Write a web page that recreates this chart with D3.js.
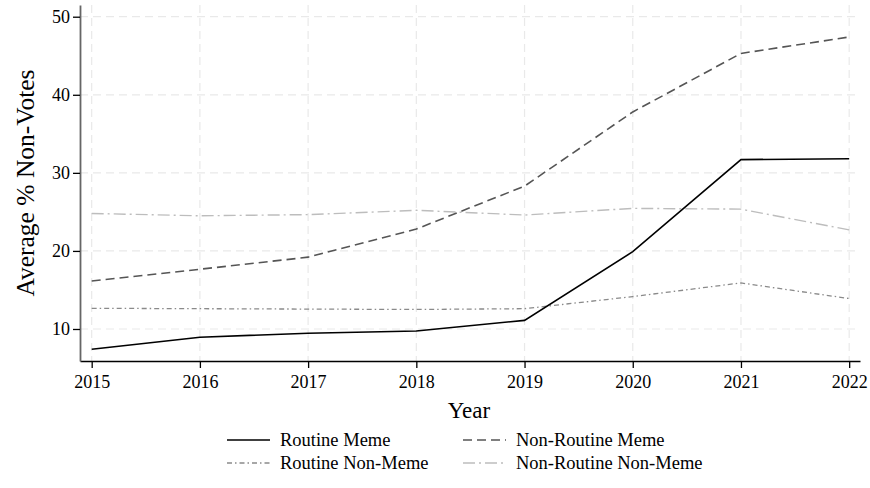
<!DOCTYPE html>
<html>
<head>
<meta charset="utf-8">
<script src="https://cdn.jsdelivr.net/npm/d3@7"></script>
<style>
  body { margin: 0; background: #fff; }
  svg { font-family: "Liberation Serif", "Times New Roman", serif; }
</style>
</head>
<body>
<svg id="svg" width="870" height="488"></svg>
<script>
var years = [2015, 2016, 2017, 2018, 2019, 2020, 2021, 2022];
var yTicks = [10, 20, 30, 40, 50];

var routineMeme = [7.4, 8.95, 9.45, 9.75, 11.1, 19.9, 31.7, 31.8];
var nonRoutineMeme = [16.15, 17.65, 19.2, 22.8, 28.3, 37.8, 45.3, 47.4];
var routineNonMeme = [12.65, 12.6, 12.55, 12.5, 12.6, 14.15, 15.9, 13.9];
var nonRoutineNonMeme = [24.8, 24.5, 24.65, 25.2, 24.6, 25.45, 25.35, 22.7];

var seriesNames = ["Routine Meme", "Non-Routine Meme", "Routine Non-Meme", "Non-Routine Non-Meme"];

var series = [
    {name: seriesNames[0], values: routineMeme, color: "#000", dash: null, width: 1.6},
    {name: seriesNames[1], values: nonRoutineMeme, color: "#555", dash: "9,5", width: 1.6},
    {name: seriesNames[2], values: routineNonMeme, color: "#8a8a8a", dash: "5,3,1.5,3", width: 1.3},
    {name: seriesNames[3], values: nonRoutineNonMeme, color: "#bdbdbd", dash: "12,4,2,4", width: 1.4}
];

var svg = d3.select("svg");

var plotLeft = 80, plotRight = 860, plotTop = 5, plotBottom = 361;

var x = d3.scaleLinear()
    .domain([2014.892, 2022.1])
    .range([plotLeft, plotRight]);

var y = d3.scaleLinear()
    .domain([5.9, 51.5])
    .range([plotBottom, plotTop]);

// grid
var grid = svg.append("g");
grid.selectAll(".vgrid")
    .data(years)
    .enter().append("line")
    .attr("x1", function (d) { return x(d); })
    .attr("x2", function (d) { return x(d); })
    .attr("y1", plotTop)
    .attr("y2", plotBottom)
    .attr("stroke", "#e9e9e9")
    .attr("stroke-width", 1.2)
    .attr("stroke-dasharray", "8,5");
grid.selectAll(".hgrid")
    .data(yTicks)
    .enter().append("line")
    .attr("x1", plotLeft)
    .attr("x2", plotRight)
    .attr("y1", function (d) { return y(d); })
    .attr("y2", function (d) { return y(d); })
    .attr("stroke", "#e9e9e9")
    .attr("stroke-width", 1.2)
    .attr("stroke-dasharray", "8,5");

// axes
var xAxis = svg.append("g")
    .attr("transform", "translate(0," + plotBottom + ")")
    .call(d3.axisBottom(x).tickValues(years).tickFormat(d3.format("d")).tickSize(7).tickSizeOuter(0));
xAxis.select(".domain").attr("stroke", "#000").attr("stroke-width", 1.5);
xAxis.selectAll(".tick line").attr("stroke", "#000").attr("stroke-width", 1.3);
xAxis.selectAll(".tick text")
    .attr("font-size", "18px")
    .attr("font-family", "Liberation Serif")
    .attr("fill", "#000")
    .attr("dy", "0.95em");

var yAxis = svg.append("g")
    .attr("transform", "translate(" + plotLeft + ",0)")
    .call(d3.axisLeft(y).tickValues(yTicks).tickSize(7).tickSizeOuter(0));
yAxis.select(".domain").attr("stroke", "#666").attr("stroke-width", 1.8);
yAxis.selectAll(".tick line").attr("stroke", "#000").attr("stroke-width", 1.3);
yAxis.selectAll(".tick text")
    .attr("font-size", "18px")
    .attr("font-family", "Liberation Serif")
    .attr("fill", "#000")
    .attr("x", -10);

// lines
var line = d3.line()
    .x(function (d, i) { return x(years[i]); })
    .y(function (d) { return y(d); });

svg.selectAll(".series")
    .data(series.slice().reverse())
    .enter().append("path")
    .attr("d", function (d) { return line(d.values); })
    .attr("fill", "none")
    .attr("stroke", function (d) { return d.color; })
    .attr("stroke-width", function (d) { return d.width; })
    .attr("stroke-dasharray", function (d) { return d.dash; });

// axis titles
svg.append("text")
    .attr("x", 469)
    .attr("y", 418)
    .attr("text-anchor", "middle")
    .attr("font-size", "23px")
    .text("Year");

svg.append("text")
    .attr("transform", "translate(34,183) rotate(-90)")
    .attr("text-anchor", "middle")
    .attr("font-size", "25.5px")
    .text("Average % Non-Votes");

// legend
var legendPos = [[227, 440], [463, 440], [227, 463], [463, 463]];
var legend = svg.selectAll(".legend")
    .data(series)
    .enter().append("g")
    .attr("transform", function (d, i) {
        return "translate(" + legendPos[i][0] + "," + legendPos[i][1] + ")";
    });
legend.append("line")
    .attr("x1", 0).attr("x2", 43)
    .attr("stroke", function (d) { return d.color; })
    .attr("stroke-width", function (d) { return d.width; })
    .attr("stroke-dasharray", function (d) { return d.dash; });
legend.append("text")
    .attr("x", 53)
    .attr("dy", "0.32em")
    .attr("font-size", "18.5px")
    .text(function (d) { return d.name; });
</script>
</body>
</html>
